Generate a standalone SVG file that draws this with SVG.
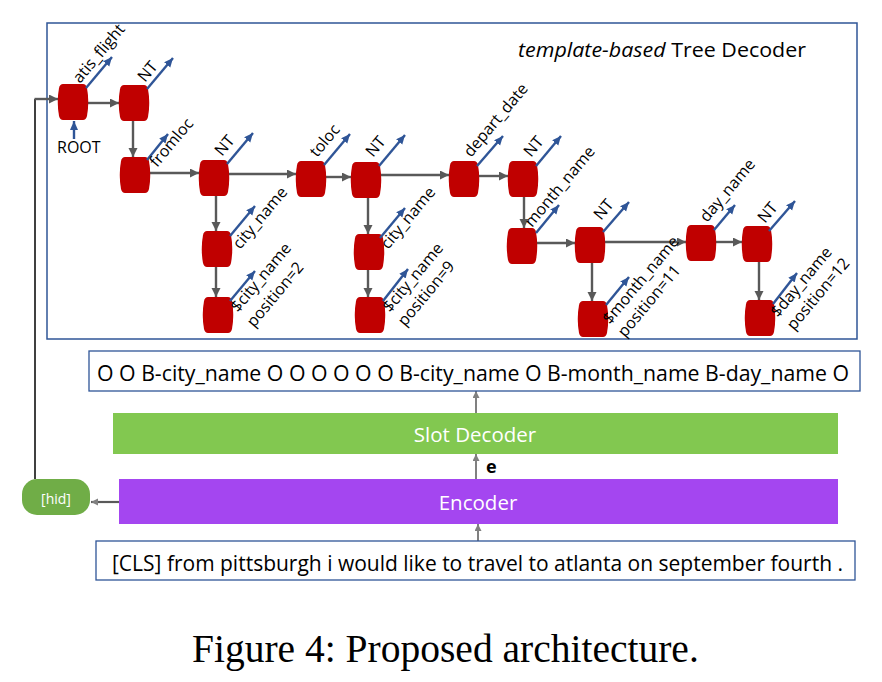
<svg xmlns="http://www.w3.org/2000/svg" width="882" height="682" viewBox="0 0 882 682">
<style>
.lbl{font-family:"Open Sans","Liberation Sans",sans-serif;font-size:16px;fill:#000}
.out{stroke:#2F5597;stroke-width:2.4;marker-end:url(#mb)}
.tc{stroke:#595959;stroke-width:2.4;fill:none;marker-end:url(#mg)}
.lc{stroke:#808080;stroke-width:2;fill:none;marker-end:url(#ml)}
.box{fill:#fff;stroke:#2F5597;stroke-width:1.3}
.wt{font-family:"Open Sans","Liberation Sans",sans-serif;font-size:20.5px;fill:#fff;text-anchor:middle}
.bt{font-family:"Open Sans","Liberation Sans",sans-serif;font-size:21.5px;fill:#000}
</style>
<defs>
<path id="barrel" d="M5,0 H25 Q28,0 29,4 Q31.5,18 29,32 Q28,36 25,36 H5 Q2,36 1,32 Q-1.5,18 1,4 Q2,0 5,0 Z" fill="#C00000"/>
<marker id="mg" markerUnits="userSpaceOnUse" markerWidth="10" markerHeight="10" refX="9" refY="4.5" orient="auto"><path d="M0,0 L9,4.5 L0,9 Z" fill="#595959"/></marker>
<marker id="mb" markerUnits="userSpaceOnUse" markerWidth="10" markerHeight="10" refX="9" refY="4" orient="auto"><path d="M0,0 L9,4 L0,8 Z" fill="#2F5597"/></marker>
<marker id="ml" markerUnits="userSpaceOnUse" markerWidth="8" markerHeight="8" refX="7" refY="3.5" orient="auto"><path d="M0,0 L7,3.5 L0,7 Z" fill="#808080"/></marker>
</defs>
<rect width="882" height="682" fill="#fff"/>

<g id="tree-decoder">
<rect x="47" y="23" width="810" height="316" fill="none" stroke="#2F5597" stroke-width="1.5"/>
<text x="518" y="57" font-family="'Open Sans','Liberation Sans',sans-serif" font-size="19.5" textLength="288" lengthAdjust="spacingAndGlyphs"><tspan font-style="italic">template-based</tspan> Tree Decoder</text>
</g>

<g id="connectors">
<line x1="35" y1="479" x2="35" y2="99" stroke="#000" stroke-width="1.5"/>
<line class="tc" x1="34.5" y1="99" x2="58" y2="99"/>
<line class="tc" x1="88" y1="103" x2="119" y2="103"/>
<line class="tc" x1="133" y1="121" x2="133" y2="157"/>
<line class="tc" x1="150" y1="173" x2="199" y2="173"/>
<line class="tc" x1="229" y1="174" x2="296" y2="174"/>
<line class="tc" x1="326" y1="177" x2="351" y2="177"/>
<line class="tc" x1="381" y1="175" x2="449" y2="175"/>
<line class="tc" x1="479" y1="176" x2="508" y2="176"/>
<line class="tc" x1="216" y1="196" x2="216" y2="231"/>
<line class="tc" x1="216" y1="267" x2="216" y2="297"/>
<line class="tc" x1="368" y1="198" x2="368" y2="234"/>
<line class="tc" x1="368" y1="270" x2="368" y2="297"/>
<line class="tc" x1="524" y1="197" x2="524" y2="228"/>
<line class="tc" x1="537" y1="243" x2="575" y2="243"/>
<line class="tc" x1="605" y1="242" x2="686" y2="242"/>
<line class="tc" x1="592" y1="263" x2="592" y2="301"/>
<line class="tc" x1="716" y1="242" x2="742" y2="242"/>
<line class="tc" x1="759" y1="262" x2="759" y2="300"/>
<line class="lc" x1="476" y1="413" x2="476" y2="391"/>
<line class="lc" x1="476" y1="479" x2="476" y2="454"/>
<line class="lc" x1="478" y1="541" x2="478" y2="524"/>
<line x1="119" y1="502" x2="91" y2="502" stroke="#595959" stroke-width="2.2" marker-end="url(#ml)"/>
</g>

<g id="n1"><use href="#barrel" x="58" y="84"/><line class="out" x1="86" y1="88" x2="112" y2="57"/><text class="lbl" x="80" y="84" transform="rotate(-50 80 84)">atis_flight</text>
<line class="out" x1="74" y1="139" x2="74" y2="121"/><text class="lbl" x="57" y="153" font-size="14.5">ROOT</text></g>
<g id="n2"><use href="#barrel" x="119" y="85"/><line class="out" x1="147" y1="89" x2="173" y2="58"/><text class="lbl" x="145" y="83" transform="rotate(-50 145 83)">NT</text></g>
<g id="n3"><use href="#barrel" x="120" y="157"/><line class="out" x1="147" y1="160" x2="168" y2="134"/><text class="lbl" x="157" y="168" transform="rotate(-50 157 168)">fromloc</text></g>
<g id="n4"><use href="#barrel" x="199" y="160"/><line class="out" x1="227" y1="164" x2="253" y2="133"/><text class="lbl" x="222" y="157" transform="rotate(-50 222 157)">NT</text></g>
<g id="n5"><use href="#barrel" x="296" y="161"/><line class="out" x1="324" y1="165" x2="350" y2="134"/><text class="lbl" x="317" y="158" transform="rotate(-50 317 158)">toloc</text></g>
<g id="n6"><use href="#barrel" x="351" y="162"/><line class="out" x1="379" y1="166" x2="405" y2="135"/><text class="lbl" x="373" y="158" transform="rotate(-50 373 158)">NT</text></g>
<g id="n7"><use href="#barrel" x="449" y="161"/><line class="out" x1="477" y1="166" x2="503" y2="136"/><text class="lbl" x="471" y="158" transform="rotate(-50 471 158)">depart_date</text></g>
<g id="n8"><use href="#barrel" x="202" y="231"/><line class="out" x1="230" y1="236" x2="255" y2="206"/><text class="lbl" x="240" y="250" transform="rotate(-50 240 250)">city_name</text></g>
<g id="n9"><use href="#barrel" x="203" y="297"/><line class="out" x1="230" y1="301" x2="255" y2="271"/><text class="lbl" x="238" y="313" transform="rotate(-50 238 313)">$city_name</text><text class="lbl" x="254" y="328" transform="rotate(-50 254 328)">position=2</text></g>
<g id="n10"><use href="#barrel" x="354" y="234"/><line class="out" x1="380" y1="238" x2="405" y2="208"/><text class="lbl" x="388" y="250" transform="rotate(-50 388 250)">city_name</text></g>
<g id="n11"><use href="#barrel" x="355" y="297"/><line class="out" x1="383" y1="301" x2="408" y2="269"/><text class="lbl" x="390" y="313" transform="rotate(-50 390 313)">$city_name</text><text class="lbl" x="405" y="327" transform="rotate(-50 405 327)">position=9</text></g>
<g id="n12"><use href="#barrel" x="508" y="161"/><line class="out" x1="536" y1="166" x2="561" y2="136"/><text class="lbl" x="531" y="158" transform="rotate(-50 531 158)">NT</text></g>
<g id="n13"><use href="#barrel" x="507" y="228"/><line class="out" x1="536" y1="233" x2="559" y2="205"/><text class="lbl" x="532" y="228" transform="rotate(-50 532 228)">month_name</text></g>
<g id="n14"><use href="#barrel" x="575" y="227"/><line class="out" x1="603" y1="232" x2="629" y2="202"/><text class="lbl" x="601" y="221" transform="rotate(-50 601 221)">NT</text></g>
<g id="n15"><use href="#barrel" x="578" y="301"/><line class="out" x1="606" y1="305" x2="629" y2="277"/><text class="lbl" x="610" y="325" transform="rotate(-50 610 325)">$month_name</text><text class="lbl" x="625" y="338" transform="rotate(-50 625 338)">position=11</text></g>
<g id="n16"><use href="#barrel" x="686" y="225"/><line class="out" x1="714" y1="230" x2="735" y2="205"/><text class="lbl" x="707" y="223" transform="rotate(-50 707 223)">day_name</text></g>
<g id="n17"><use href="#barrel" x="742" y="226"/><line class="out" x1="769" y1="231" x2="795" y2="201"/><text class="lbl" x="765" y="224" transform="rotate(-50 765 224)">NT</text></g>
<g id="n18"><use href="#barrel" x="745" y="300"/><line class="out" x1="773" y1="304" x2="797" y2="273"/><text class="lbl" x="778" y="318" transform="rotate(-50 778 318)">$day_name</text><text class="lbl" x="794" y="331" transform="rotate(-50 794 331)">position=12</text></g>

<g id="slot-output"><rect class="box" x="89" y="351" width="771" height="40"/><text class="bt" x="97" y="381" textLength="752" lengthAdjust="spacingAndGlyphs">O O B-city_name O O O O O O B-city_name O B-month_name B-day_name O</text></g>
<g id="slot-decoder"><rect x="113" y="413" width="725" height="41" fill="#82C850"/><text class="wt" x="475" y="442">Slot Decoder</text></g>
<g id="e-label"><text x="486" y="473" font-family="'Open Sans','Liberation Sans',sans-serif" font-size="18" font-weight="bold">e</text></g>
<g id="encoder"><rect x="119" y="479" width="719" height="45" fill="#A446F0"/><text class="wt" x="478" y="510">Encoder</text></g>
<g id="hid"><rect x="22" y="479" width="68" height="36" rx="15" ry="15" fill="#70AD47"/><text x="56" y="504" font-family="'Open Sans','Liberation Sans',sans-serif" font-size="14" fill="#fff" text-anchor="middle">[hid]</text></g>
<g id="input"><rect class="box" x="96" y="541" width="759" height="39"/><text class="bt" x="112" y="571" textLength="731" lengthAdjust="spacingAndGlyphs">[CLS] from pittsburgh i would like to travel to atlanta on september fourth .</text></g>

<text x="192" y="662" font-family="'Liberation Serif','Times New Roman',serif" font-size="39.5">Figure 4: Proposed architecture.</text>
</svg>
